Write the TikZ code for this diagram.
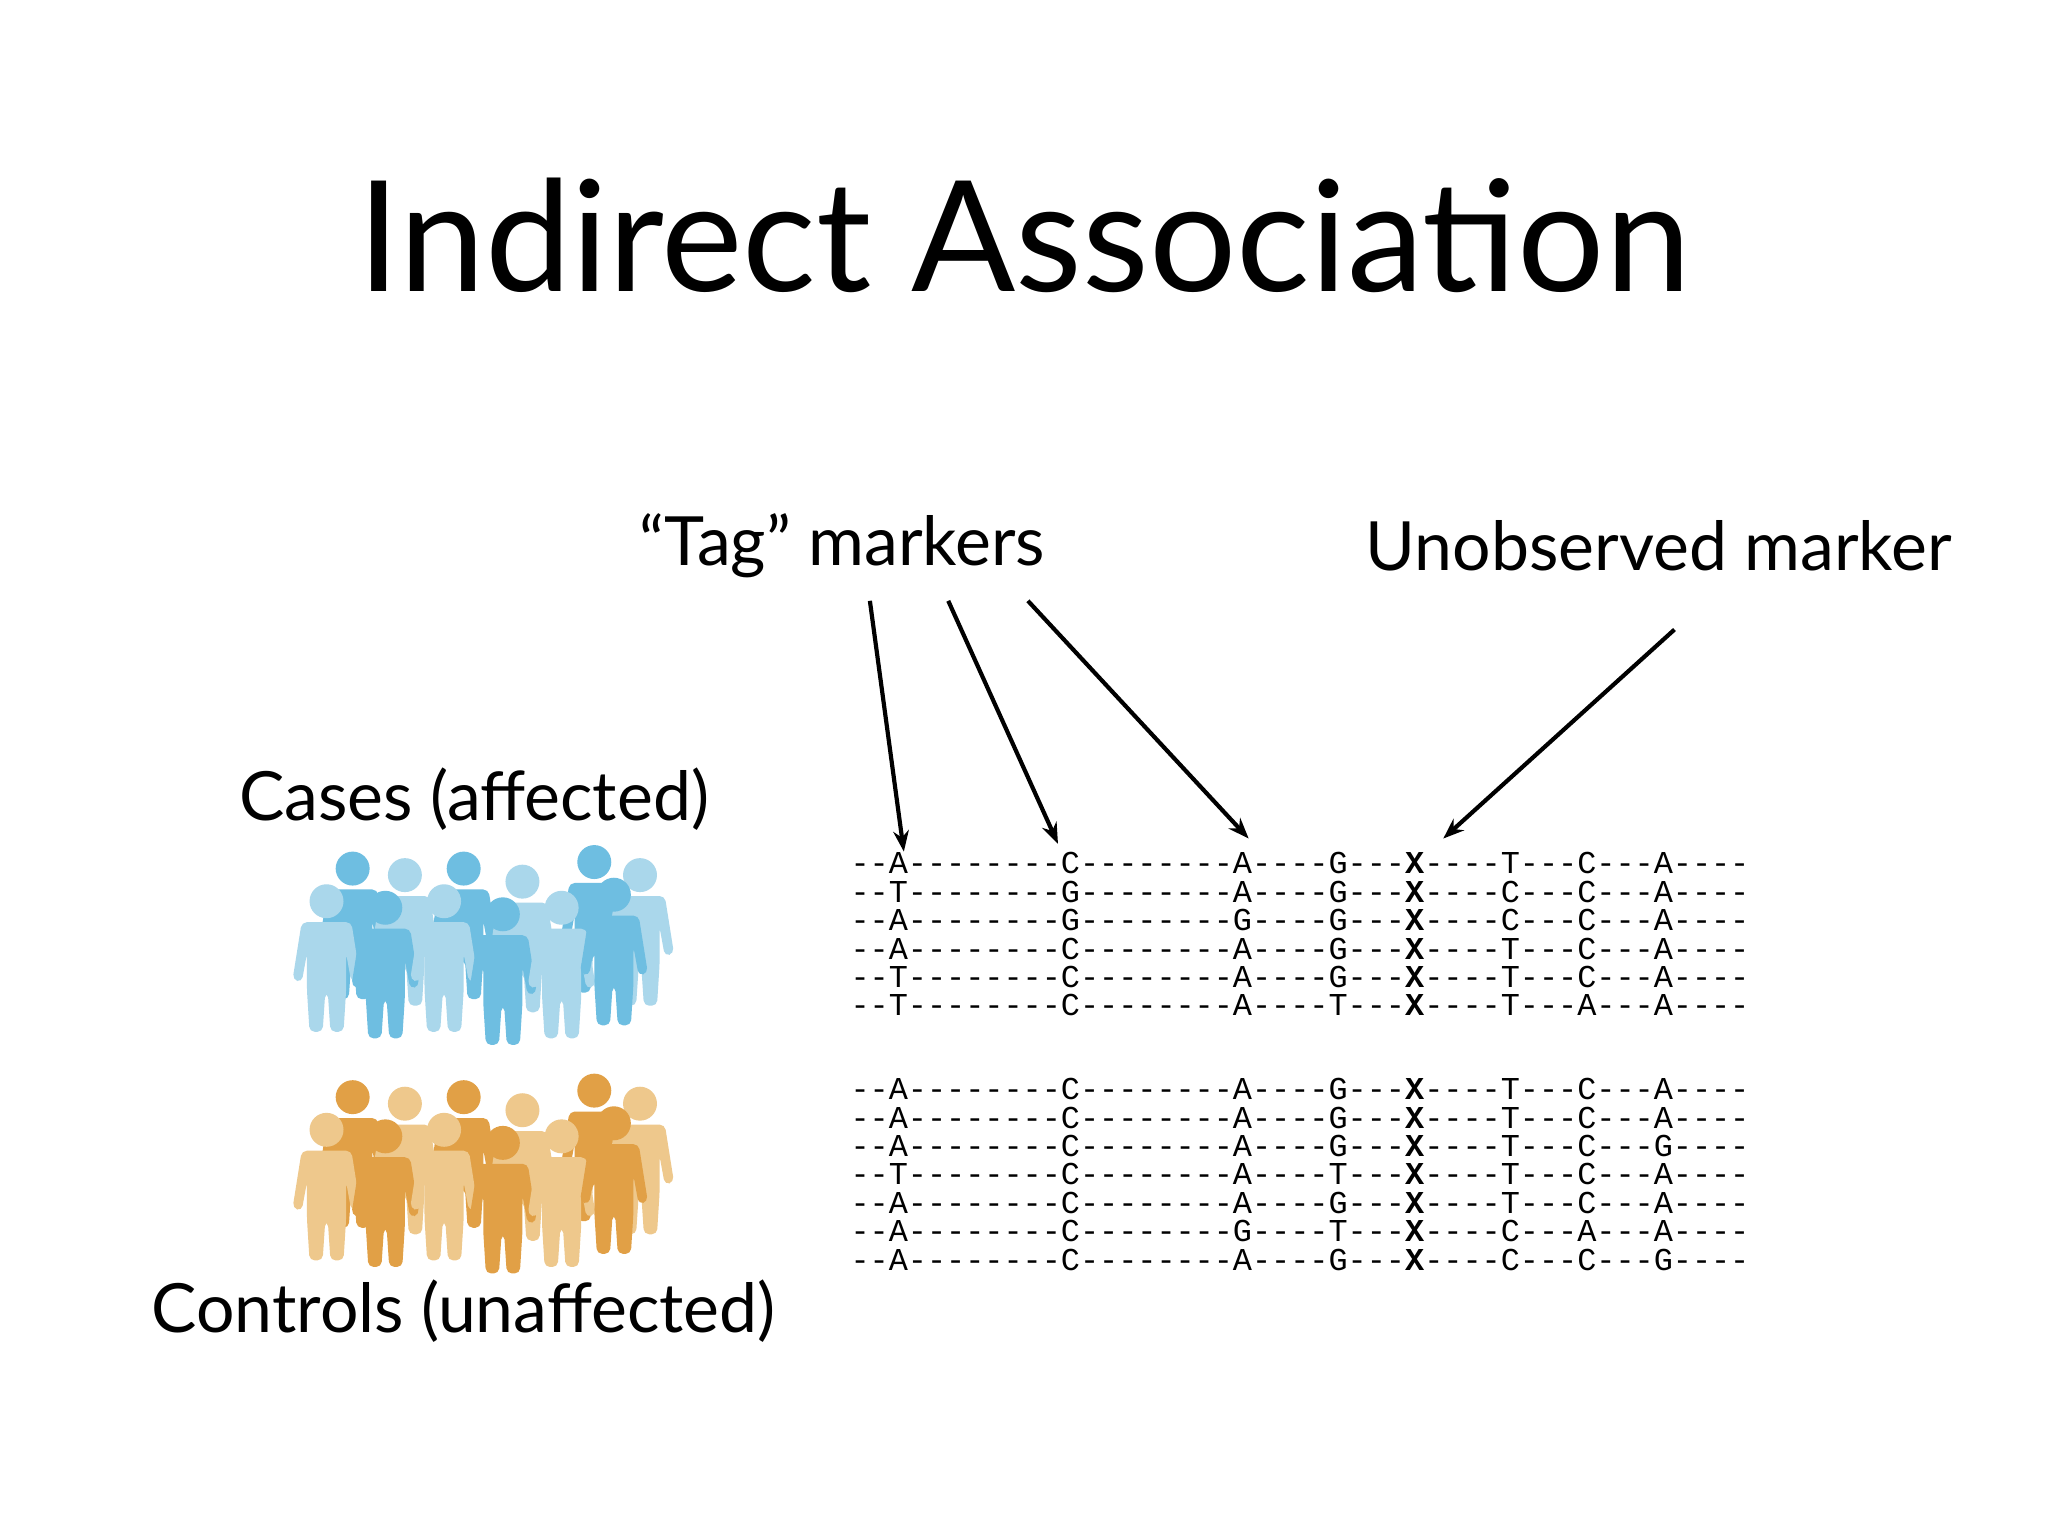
\documentclass[tikz,border=0pt]{standalone}
\usepackage{fontspec}
\usetikzlibrary{arrows.meta}
\setmainfont{Lato}
\newfontfamily\seqfont{Liberation Mono}
\begin{document}
\begin{tikzpicture}[x=1pt,y=-1pt,
  lab/.style={font=\fontsize{52}{60}\selectfont, inner sep=0},
  arr/.style={line width=3.2pt,-{Stealth[length=16pt,width=12pt]}},
  seq/.style={font=\seqfont\fontsize{24.4}{26}\selectfont, anchor=west, inner sep=0},
  person/.pic={
    \fill[#1] (0,-100) circle (13);
    \fill[#1,rounded corners=4] (-19,-84) -- (19,-84) -- (26,-40) -- (19,-38) -- (15,-60) -- (15,-32) -- (13,0) -- (3,0) -- (1,-30) -- (-1,-30) -- (-3,0) -- (-13,0) -- (-15,-32) -- (-15,-60) -- (-19,-38) -- (-26,-40) -- cycle;
  }]
\useasboundingbox (0,0) rectangle (1568,1176);
\fill[white] (0,0) rectangle (1568,1176);
\node[font=\fontsize{118}{130}\selectfont, inner sep=0] (title) at (784,180) {Indirect Association};
\node[lab] (tag) at (645,418) {“Tag” markers};
\node[lab] (unobs) at (1270,418) {Unobserved marker};
\node[lab] (cases) at (363,612) {Cases (affected)};
\node[lab] (ctrl) at (355,1004) {Controls (unaffected)};
% people
\definecolor{bd}{RGB}{110,190,225}\definecolor{bl}{RGB}{170,215,235}
\definecolor{od}{RGB}{225,160,70}\definecolor{ol}{RGB}{238,200,140}
\foreach \x/\y/\c in {270/765/bd,355/765/bd,455/760/bd,310/770/bl,400/775/bl,490/770/bl,
                     250/790/bl,295/795/bd,340/790/bl,385/800/bd,430/795/bl,470/785/bd}
  \pic at (\x,\y) {person=\c};
\foreach \x/\y/\c in {270/940/od,355/940/od,455/935/od,310/945/ol,400/950/ol,490/945/ol,
                     250/965/ol,295/970/od,340/965/ol,385/975/od,430/970/ol,470/960/od}
  \pic at (\x,\y) {person=\c};
% sequences
\foreach \s [count=\i] in {
 {--A--------C--------A----G---\textbf{X}----T---C---A----},
 {--T--------G--------A----G---\textbf{X}----C---C---A----},
 {--A--------G--------G----G---\textbf{X}----C---C---A----},
 {--A--------C--------A----G---\textbf{X}----T---C---A----},
 {--T--------C--------A----G---\textbf{X}----T---C---A----},
 {--T--------C--------A----T---\textbf{X}----T---A---A----}}
 \node[seq] (c\i) at (651,{639+21.8*\i}) {\s};
\foreach \s [count=\i] in {
 {--A--------C--------A----G---\textbf{X}----T---C---A----},
 {--A--------C--------A----G---\textbf{X}----T---C---A----},
 {--A--------C--------A----G---\textbf{X}----T---C---G----},
 {--T--------C--------A----T---\textbf{X}----T---C---A----},
 {--A--------C--------A----G---\textbf{X}----T---C---A----},
 {--A--------C--------G----T---\textbf{X}----C---A---A----},
 {--A--------C--------A----G---\textbf{X}----C---C---G----}}
 \node[seq] (k\i) at (651,{812+21.8*\i}) {\s};
\coordinate (a1) at (666,460); \coordinate (e1) at (692,652);
\coordinate (a2) at (726,460); \coordinate (e2) at (810,646);
\coordinate (a3) at (787,460); \coordinate (e3) at (956,642);
\coordinate (a4) at (1282,482); \coordinate (e4) at (1105,642);
\foreach \i in {1,...,4} \draw[arr] (a\i) -- (e\i);
\end{tikzpicture}
\end{document}
